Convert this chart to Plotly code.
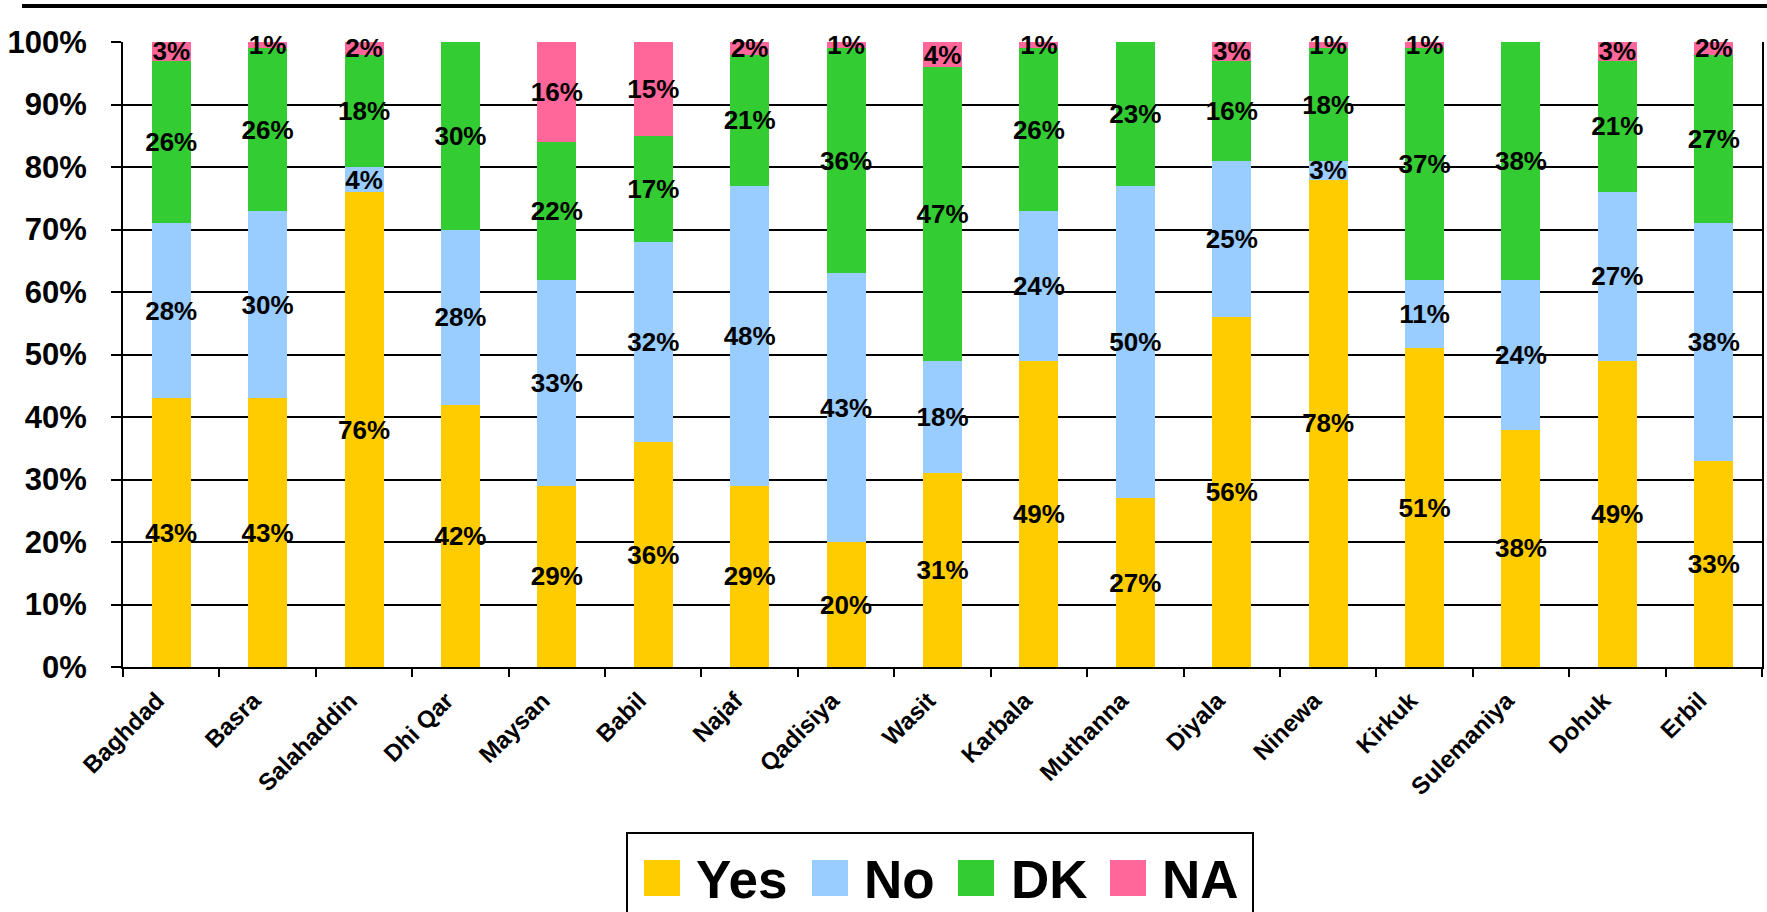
import plotly.graph_objects as go

categories = ["Baghdad", "Basra", "Salahaddin", "Dhi Qar", "Maysan", "Babil", "Najaf",
              "Qadisiya", "Wasit", "Karbala", "Muthanna", "Diyala", "Ninewa", "Kirkuk",
              "Sulemaniya", "Dohuk", "Erbil"]
yes_vals = [43, 43, 76, 42, 29, 36, 29, 20, 31, 49, 27, 56, 78, 51, 38, 49, 33]
no_vals = [28, 30, 4, 28, 33, 32, 48, 43, 18, 24, 50, 25, 3, 11, 24, 27, 38]
dk_vals = [26, 26, 18, 30, 22, 17, 21, 36, 47, 26, 23, 16, 18, 37, 38, 21, 27]
na_vals = [3, 1, 2, 0, 16, 15, 2, 1, 4, 1, 0, 3, 1, 1, 0, 3, 2]
series_names = ["Yes", "No", "DK", "NA"]
series_colors = ["#FFCC00", "#99CCFF", "#33CC33", "#FF6699"]
y_ticks = [0, 10, 20, 30, 40, 50, 60, 70, 80, 90, 100]

FONT = "Liberation Sans, Arial, sans-serif"
W, H = 1767, 912
L, R, T, B = 123, 5, 42, 245
PW, PH = W - L - R, H - T - B


def xp(px):
    return (px - L) / PW


def yp(py):
    return (H - B - py) / PH


fig = go.Figure()
for name, color, vals in zip(series_names, series_colors, [yes_vals, no_vals, dk_vals, na_vals]):
    fig.add_trace(go.Bar(
        x=categories, y=vals, name=name,
        marker=dict(color=color, line=dict(width=0)),
        text=[f"{v}%" if v else "" for v in vals],
        textposition="inside", insidetextanchor="middle", textangle=0,
        textfont=dict(family=FONT, size=26, color="black", weight="bold"),
        cliponaxis=False, showlegend=False, hoverinfo="x+y+name",
    ))

fig.update_layout(
    width=W, height=H,
    margin=dict(l=L, r=R, t=T, b=B, autoexpand=False),
    barmode="stack", bargap=0.595,
    plot_bgcolor="white", paper_bgcolor="white",
    uniformtext=dict(minsize=26, mode="show"),
    showlegend=False,
    font=dict(family=FONT, color="black"),
)
fig.update_yaxes(
    range=[0, 100], tickvals=y_ticks, ticktext=[f"{v}%" for v in y_ticks],
    showgrid=True, gridcolor="black", gridwidth=2,
    showline=True, linecolor="black", linewidth=2, mirror=True,
    ticks="outside", ticklen=10, tickwidth=2, tickcolor="black",
    ticklabelstandoff=18,
    tickfont=dict(family=FONT, size=31, color="black", weight="bold"),
    zeroline=False, fixedrange=True,
)
fig.update_xaxes(
    showline=True, linecolor="black", linewidth=2,
    ticks="outside", tickson="boundaries", ticklen=8, tickwidth=2, tickcolor="black",
    tickangle=-45, ticklabelstandoff=8, ticklabelshift=-14,
    tickfont=dict(family=FONT, size=24, color="black", weight="bold"),
    showgrid=False, fixedrange=True,
)

shapes = []
# top rule
shapes.append(dict(type="line", xref="paper", yref="paper", x0=xp(22), x1=xp(1767),
                   y0=yp(6), y1=yp(6), line=dict(color="black", width=4)))
# manual legend box
shapes.append(dict(type="rect", xref="paper", yref="paper", x0=xp(627), x1=xp(1253),
                   y0=yp(833), y1=yp(930), line=dict(color="black", width=2),
                   fillcolor="white", layer="below"))
square_x = [644, 812, 958, 1110]
text_x = [697, 865, 1012, 1163]
annotations = []
for name, color, sx, tx in zip(series_names, series_colors, square_x, text_x):
    shapes.append(dict(type="rect", xref="paper", yref="paper", x0=xp(sx), x1=xp(sx + 36),
                       y0=yp(896), y1=yp(860), line=dict(width=0), fillcolor=color))
    annotations.append(dict(xref="paper", yref="paper", x=xp(tx - 3), y=yp(879),
                            xanchor="left", yanchor="middle", showarrow=False, text=name,
                            font=dict(family=FONT, size=53, color="black", weight="bold")))
fig.update_layout(shapes=shapes, annotations=annotations)

fig.write_html("out.html", config={"displayModeBar": False},
               post_script="document.body.style.margin='0px';document.body.style.overflow='hidden';")
